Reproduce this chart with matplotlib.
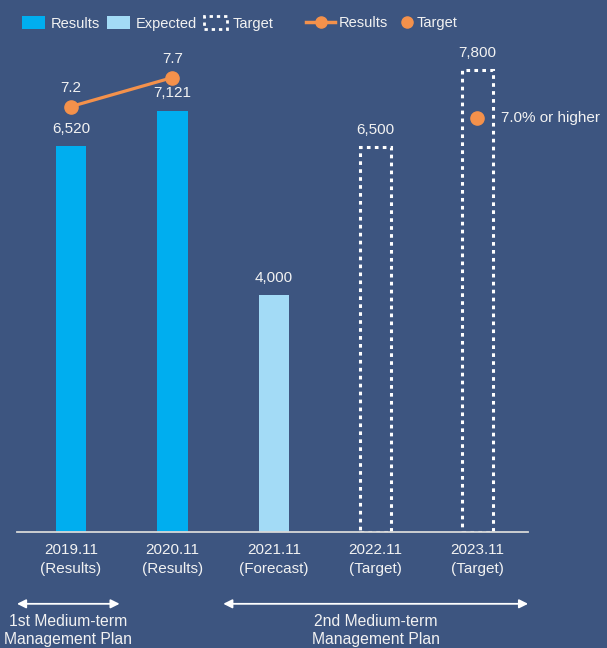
import matplotlib
matplotlib.use("Agg")
import matplotlib.pyplot as plt
from matplotlib.patches import Patch
from matplotlib.lines import Line2D

BG = "#3D5580"
CYAN = "#00AEEF"
LIGHT = "#A3DBF6"
ORANGE = "#F4914B"
TXT = "#F2F2F2"

plt.rcParams["font.family"] = ["Liberation Sans", "DejaVu Sans"]

years = ["2019.11\n(Results)", "2020.11\n(Results)", "2021.11\n(Forecast)",
         "2022.11\n(Target)", "2023.11\n(Target)"]
results = [6520, 7121]
expected = [4000]
targets = [6500, 7800]
ratio_results = [7.2, 7.7]
ratio_target = [7.0]

fig = plt.figure(figsize=(6.07, 6.48), dpi=100)
fig.patch.set_facecolor(BG)
ax = fig.add_axes([0.028, 0.179, 0.842, 0.759])
ax.set_facecolor(BG)
ax2 = ax.twinx()

w = 0.3
x_res = [0, 1]
x_exp = [2]
x_tgt = [3, 4]

ax.bar(x_res, results, width=w, color=CYAN, zorder=2)
ax.bar(x_exp, expected, width=w, color=LIGHT, zorder=2)
ax.bar(x_tgt, targets, width=w, facecolor="none", edgecolor="white",
       linewidth=2.2, linestyle=(0, (1.2, 1.4)), zorder=2)

for xs, vals in [(x_res, results), (x_exp, expected), (x_tgt, targets)]:
    for x, v in zip(xs, vals):
        ax.text(x, v + 180, f"{v:,}", ha="center", va="bottom",
                color=TXT, fontsize=11)

ax.set_xlim(-0.53, 4.5)
ax.set_ylim(0, 8311)
ax.set_xticks(range(len(years)))
ax.set_xticklabels(years, color=TXT, fontsize=11, linespacing=1.4)
ax.tick_params(axis="x", length=0, pad=8)
ax.set_yticks([])
for s in ["top", "right", "left"]:
    ax.spines[s].set_visible(False)
ax.spines["bottom"].set_color("#D8D8D8")
ax.spines["bottom"].set_linewidth(1.3)

# ratio line on secondary axis
ax2.plot(x_res, ratio_results, color=ORANGE, lw=2.3, marker="o", ms=9.5, zorder=3)
ax2.plot([4], ratio_target, color=ORANGE, ls="none", marker="o", ms=9.5, zorder=3)
for x, v in zip(x_res, ratio_results):
    ax2.text(x, v + 0.2, f"{v}", ha="center", va="bottom", color=TXT, fontsize=11)
ax2.text(4.23, ratio_target[0], "7.0% or higher", ha="left", va="center",
         color=TXT, fontsize=11, clip_on=False)
ax2.set_ylim(-0.138, 8.345)
ax2.set_yticks([])
for s in ax2.spines.values():
    s.set_visible(False)

# plan period arrows
tr = ax.get_xaxis_transform()
for x0, x1, label, xc in [(-0.53, 0.48, "1st Medium-term\nManagement Plan", -0.03),
                          (1.5, 4.5, "2nd Medium-term\nManagement Plan", 3.0)]:
    ax.annotate("", xy=(x0, -0.146), xytext=(x1, -0.146), xycoords=tr, textcoords=tr,
                arrowprops=dict(arrowstyle="<|-|>", color="white", lw=1.3,
                                mutation_scale=13, shrinkA=0, shrinkB=0),
                annotation_clip=False)
    ax.text(xc, -0.2, label, transform=tr, ha="center", va="center",
            color=TXT, fontsize=11.3, linespacing=1.25)

# legend
handles = [
    Patch(facecolor=CYAN, label="Results"),
    Patch(facecolor=LIGHT, label="Expected"),
    Patch(facecolor="none", edgecolor="white", linewidth=2, linestyle=(0, (1.2, 1.4)),
          label="Target"),
]
fig.legend(handles=handles, loc="upper left", bbox_to_anchor=(0.014, 0.995),
           ncol=3, frameon=False, fontsize=10.5, labelcolor=TXT,
           handlelength=1.6, handleheight=0.95, handletextpad=0.4,
           columnspacing=0.45)
fig.legend(handles=[Line2D([0], [0], color=ORANGE, lw=2.5, marker="o", ms=8,
                           label="Results")],
           loc="upper left", bbox_to_anchor=(0.483, 0.995), frameon=False,
           fontsize=10.5, labelcolor=TXT, handlelength=2.0, handletextpad=0.2)
fig.legend(handles=[Line2D([0], [0], color=ORANGE, ls="none", marker="o", ms=8,
                           label="Target")],
           loc="upper left", bbox_to_anchor=(0.64, 0.995), frameon=False,
           fontsize=10.5, labelcolor=TXT, handlelength=0.8, handletextpad=0.2)

fig.savefig("out.png", dpi=100, facecolor=BG)
